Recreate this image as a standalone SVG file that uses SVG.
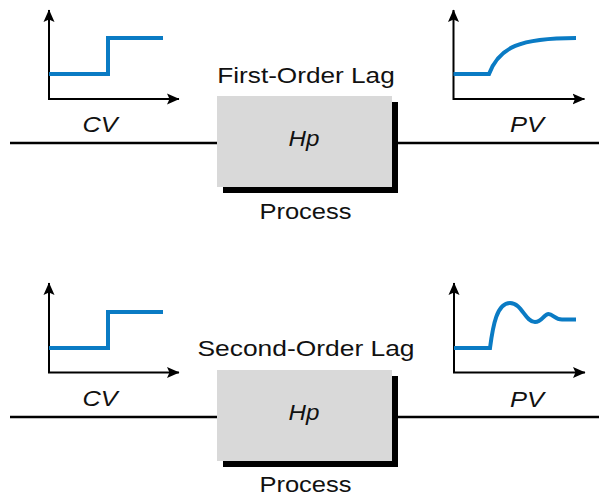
<svg xmlns="http://www.w3.org/2000/svg" width="599" height="497" viewBox="0 0 599 497">
<style>
text{font-family:"Liberation Sans",Arial,sans-serif;font-size:22px;fill:#111;text-anchor:middle}
.it{font-style:italic}
.axis{fill:none;stroke:#000;stroke-width:2;marker-start:url(#arr);marker-end:url(#arr)}
.sig{fill:none;stroke:#0A7BC4;stroke-width:4}
.box{fill:#D9D9D9}
.shadow{fill:#000}
.wire{stroke:#000;stroke-width:2.5;fill:none}
</style>
<defs>
<marker id="arr" markerUnits="userSpaceOnUse" markerWidth="13" markerHeight="12" refX="12" refY="6" orient="auto-start-reverse" viewBox="0 0 13 12">
<path d="M0,0.5 L12.5,6 L0,11.5 L2.5,6 z" fill="#000"/>
</marker>
</defs>
<g id="connectors">
<line class="wire" x1="10" y1="143" x2="217" y2="143"/>
<line class="wire" x1="392" y1="143" x2="599" y2="143"/>
<line class="wire" x1="10" y1="417" x2="217" y2="417"/>
<line class="wire" x1="392" y1="417" x2="599" y2="417"/>
</g>
<g id="cv1">
<path class="axis" d="M49,10 V99 H179"/>
<path class="sig" d="M49,74 H108 V38 H163"/>
<text class="it" transform="translate(100,132) scale(1.15,1)">CV</text>
</g>
<g id="process1">
<text transform="translate(306,83) scale(1.19,1)">First-Order Lag</text>
<rect class="shadow" x="223" y="102" width="175" height="91"/>
<rect class="box" x="217" y="96" width="175" height="91"/>
<text class="it" transform="translate(304,146) scale(1.1,1)">Hp</text>
<text transform="translate(305.5,218.5) scale(1.16,1)">Process</text>
</g>
<g id="pv1">
<path class="axis" d="M453.5,10 V99 H584.5"/>
<path class="sig" d="M453.5,74 H489 C499,47 520,38 576,38"/>
<text class="it" transform="translate(527,132) scale(1.16,1)">PV</text>
</g>
<g id="cv2">
<path class="axis" d="M49,283 V372.5 H179"/>
<path class="sig" d="M49,348 H108 V312 H163"/>
<text class="it" transform="translate(100,406) scale(1.15,1)">CV</text>
</g>
<g id="process2">
<text transform="translate(306,355.5) scale(1.2,1)">Second-Order Lag</text>
<rect class="shadow" x="223" y="376" width="175" height="91"/>
<rect class="box" x="217" y="370" width="175" height="91"/>
<text class="it" transform="translate(304,420) scale(1.1,1)">Hp</text>
<text transform="translate(305.5,492) scale(1.16,1)">Process</text>
</g>
<g id="pv2">
<path class="axis" d="M454,283 V372.5 H585"/>
<path class="sig" d="M454,348 H490 C493,325 497,303 510,303 C522,303 525,322 535,322 C542,322 544,314 548.5,314 C553,314 555,319.5 562,319.5 H576"/>
<text class="it" transform="translate(527,406.5) scale(1.16,1)">PV</text>
</g>
</svg>
